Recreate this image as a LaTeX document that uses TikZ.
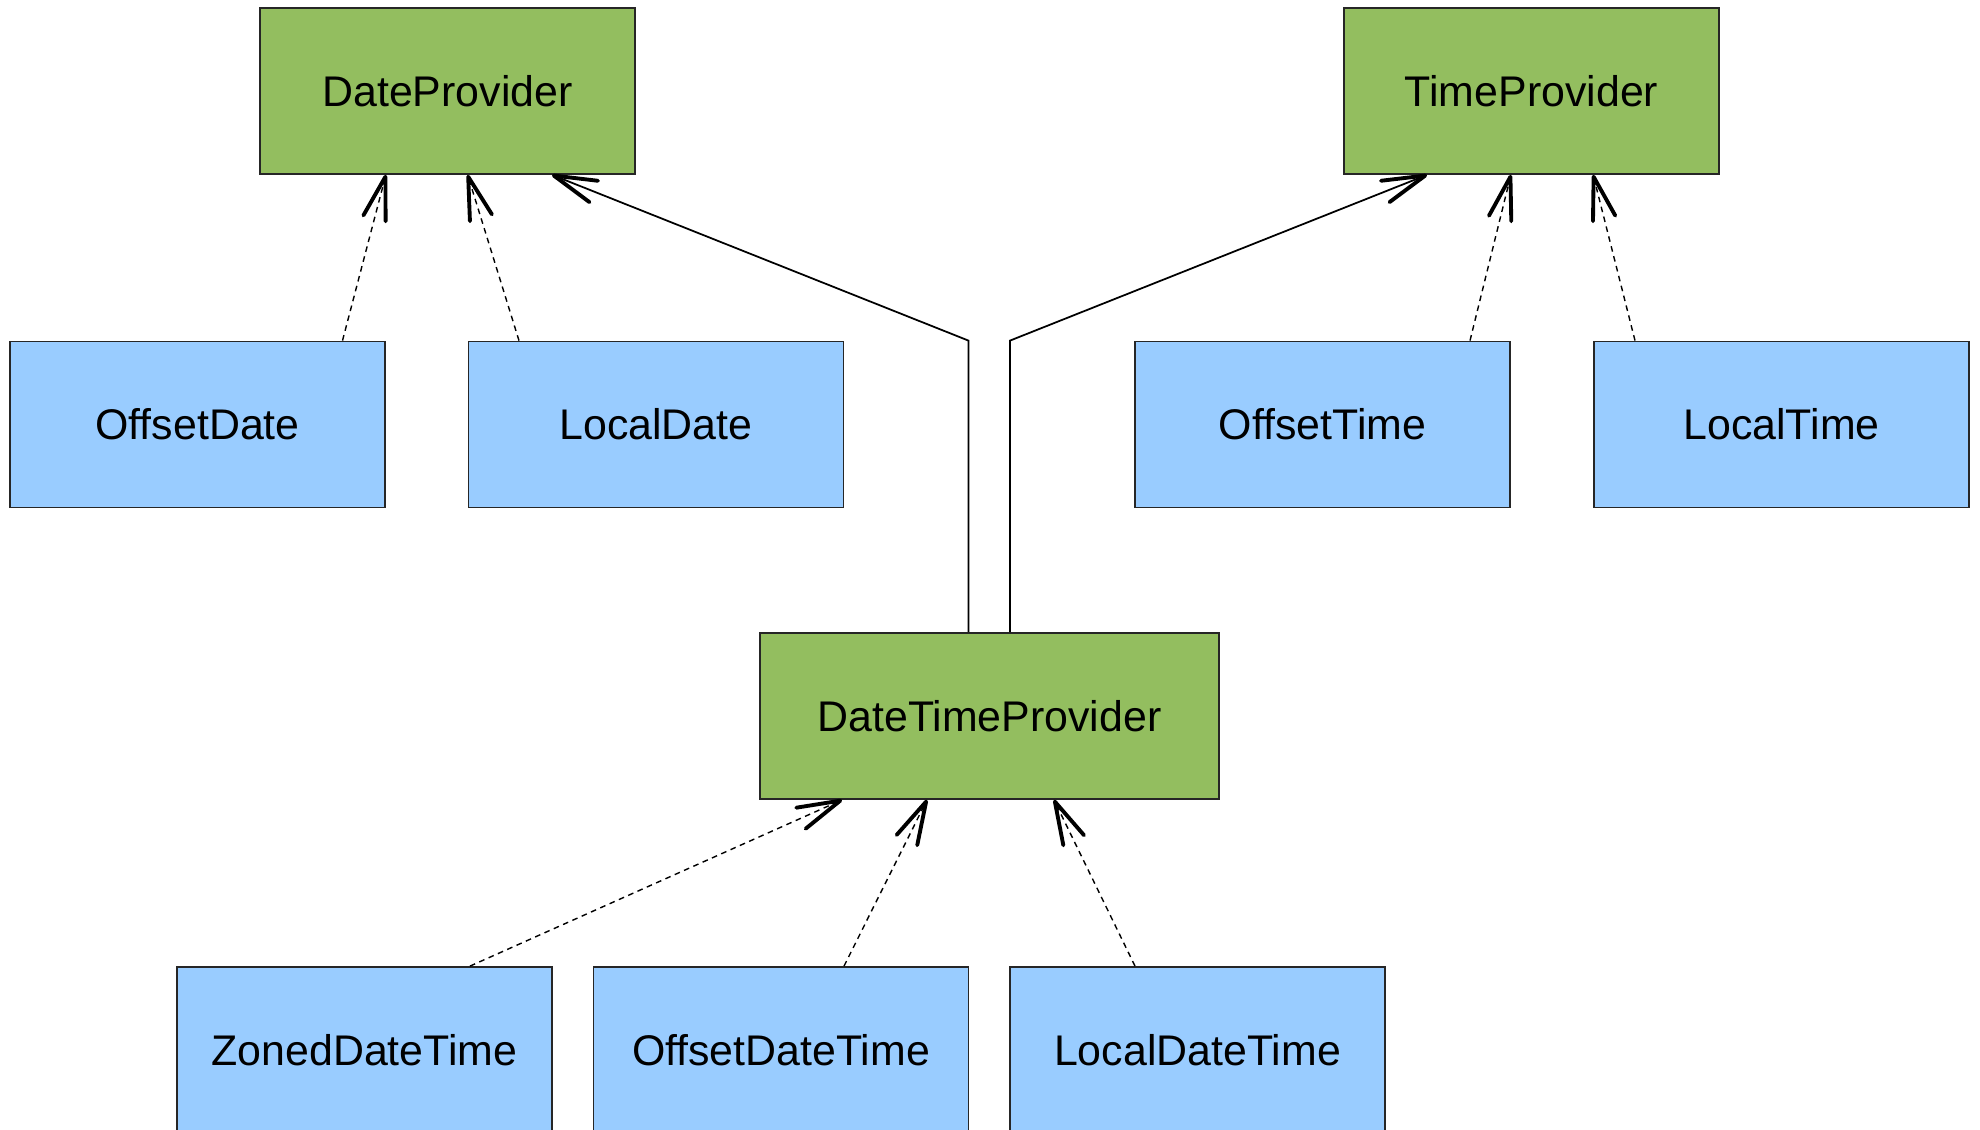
\documentclass[tikz,border=0pt]{standalone}
\usepackage{fontspec}
\setmainfont{Liberation Sans}
\usetikzlibrary{arrows.meta, calc}
\definecolor{provgreen}{RGB}{147,190,95}
\definecolor{classblue}{RGB}{153,204,255}

\begin{document}
\begin{tikzpicture}[
    iface/.style={rectangle,draw=black!85,fill=provgreen,minimum width=3.75cm,minimum height=1.66cm,line width=0.5pt,inner sep=0pt,font=\fontsize{12.2}{14}\selectfont},
    impl/.style={iface,fill=classblue},
    punta/.style={-{Straight Barb[length=4.3mm,width=2.3mm,line width=1.1pt,round]}},
    realizza/.style={punta,line width=0.4pt,dash pattern=on 1.6pt off 1.3pt},
    estende/.style={punta,line width=0.5pt}]
    \useasboundingbox (0,0) rectangle (19.8,-11.3);

    % Interfacce in alto
    \node[iface] (dprov) at (4.475,-0.91) {DateProvider};
    \node[iface] (tprov) at (15.315,-0.91) {TimeProvider};

    % Classi di data e ora
    \node[impl] (offdate) at (1.975,-4.245) {OffsetDate};
    \node[impl] (locdate) at (6.56,-4.245) {LocalDate};
    \node[impl] (offtime) at (13.225,-4.245) {OffsetTime};
    \node[impl] (loctime) at (17.815,-4.245) {LocalTime};

    % Interfaccia combinata
    \node[iface,minimum width=4.59cm] (dtprov) at (9.895,-7.16) {DateTimeProvider};

    % Classi data+ora
    \node[impl] (zoneddt) at (3.645,-10.5) {ZonedDateTime};
    \node[impl] (offdt) at (7.81,-10.5) {OffsetDateTime};
    \node[impl] (locdt) at (11.975,-10.5) {LocalDateTime};

    % Implementazioni
    \draw[realizza] ([xshift=1.45cm]offdate.north) -- (dprov.south -| offdate.east);
    \draw[realizza] ([xshift=-1.37cm]locdate.north) -- (dprov.south -| locdate.west);
    \draw[realizza] ([xshift=1.475cm]offtime.north) -- (tprov.south -| offtime.east);
    \draw[realizza] ([xshift=-1.465cm]loctime.north) -- (tprov.south -| loctime.west);
    \draw[realizza] ([xshift=1.055cm]zoneddt.north) -- ([xshift=-1.475cm]dtprov.south);
    \draw[realizza] ([xshift=0.63cm]offdt.north) -- ([xshift=-0.625cm]dtprov.south);
    \draw[realizza] ([xshift=-0.625cm]locdt.north) -- ([xshift=0.645cm]dtprov.south);

    % Ereditarieta
    \draw[estende] ([xshift=-0.21cm]dtprov.north) -- ([xshift=-0.21cm]dtprov.north |- locdate.north) -- ([xshift=1.045cm]dprov.south);
    \draw[estende] ([xshift=0.205cm]dtprov.north) -- ([xshift=0.205cm]dtprov.north |- offtime.north) -- ([xshift=-1.045cm]tprov.south);
\end{tikzpicture}
\end{document}
